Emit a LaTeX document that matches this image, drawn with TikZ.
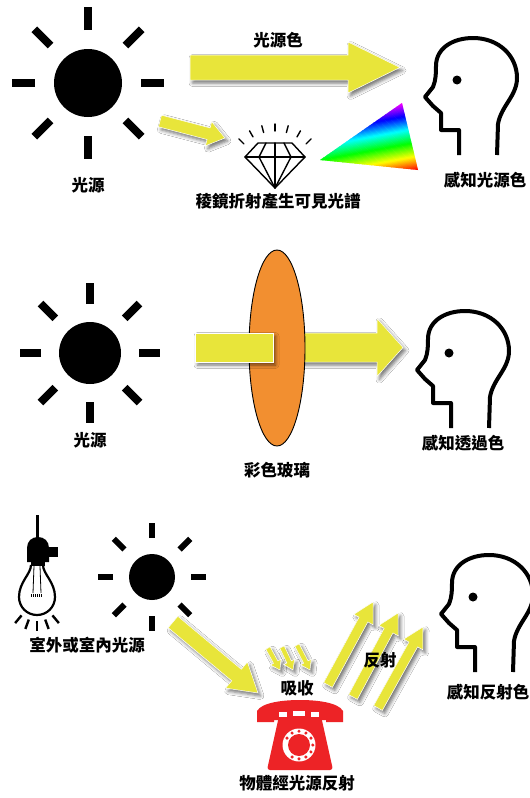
\documentclass[tikz,border=0pt]{standalone}
\usepackage{fontspec}
\setmainfont{Noto Sans CJK TC}
\usetikzlibrary{calc,shadows.blur}

\definecolor{beam}{HTML}{E8E53A}
\definecolor{lens}{HTML}{F28F30}
\definecolor{phonered}{HTML}{ED2326}

\tikzset{
  lbl/.style={font=\bfseries\fontsize{16.5}{18}\selectfont, inner sep=0pt},
  beamfill/.style={fill=beam, draw=white, line width=0.5pt,
    blur shadow={shadow xshift=2.5pt, shadow yshift=-3pt, shadow blur radius=3.5pt, shadow opacity=55}},
  headline/.style={line width=4pt, line join=round},
  thinline/.style={line width=1.4pt, line join=round, line cap=round},
}

% sun: name, centre, disc radius, ray start, ray end, ray width
\newcommand\sunicon[6]{%
  \coordinate (#1) at #2;
  \fill (#1) circle[radius=#3];
  \foreach \a in {0,45,...,315}
    \draw[line width=#6] ($(#1)+(\a:#4)$) -- ($(#1)+(\a:#5)$);
}

% head in profile, placed by the eye position
\newcommand\headicon[2]{%
  \coordinate (#1) at #2;
  \begin{scope}[shift={(#1)}]
    \draw[headline] (2,75) -- (2,50) -- (-16,50) -- (-16,33) -- (-24,26) -- (-32,17) -- (-24,7)
      .. controls (-21,0) and (-21,-8) .. (-21,-14)
      .. controls (-21,-32) and (-4,-42) .. (16,-42)
      .. controls (42,-42) and (60,-24) .. (60,-2)
      .. controls (60,16) and (44,26) .. (41,44) -- (40,75);
    \fill (0,0) circle[radius=4.5];
  \end{scope}
}

% broad yellow arrow: tail, tip, shaft half width, head half width, head length
\newcommand\beamarrow[5]{%
  \path ($(#2)!#5pt!(#1)$) coordinate (hb);
  \fill[beamfill] ($(#1)!#3pt!90:(#2)$) -- ($(hb)!#3pt!90:(#2)$) -- ($(hb)!#4pt!90:(#2)$)
    -- (#2) -- ($(hb)!#4pt!-90:(#2)$) -- ($(hb)!#3pt!-90:(#2)$) -- ($(#1)!#3pt!-90:(#2)$) -- cycle;
}

\begin{document}
\begin{tikzpicture}[x=1pt,y=-1pt]
\fill[white] (0,0) rectangle (530,798);
\useasboundingbox (0,0) rectangle (530,798);

%----------------------------------------------------------- light source colour
\sunicon{sunA}{(88,83)}{34}{53}{76}{8pt}
\node[lbl] (srcA) at (88,185) {光源};

\coordinate (bigT) at (190,67.5);
\coordinate (bigH) at (400,67.5);
\beamarrow{bigT}{bigH}{12.5}{25.5}{52}
\node[lbl] (lsc) at (278,40) {光源色};

\coordinate (smT) at (160,121);
\coordinate (smH) at (225,138);
\beamarrow{smT}{smH}{6}{12.5}{17}

% diamond
\coordinate (gem) at (275,160);
\draw[thinline] (258,143) -- (292,143) -- (305,157) -- (275,188) -- (245,157) -- cycle;
\draw[thinline] (245,157) -- (305,157);
\draw[thinline] (275,143) -- (275,188);
\draw[thinline] (266,143) -- (259,157) -- (275,188) -- (291,157) -- (284,143);
\foreach \a in {-135,-120,...,-45}
  \draw[line width=1.4pt, line cap=round] ($(275,175)+(\a:44)$) -- ($(275,175)+(\a:51)$);

% spectrum: parallel colour bands clipped to the triangle
\coordinate (pv) at (320,160);
\coordinate (pt) at (402,103);
\coordinate (pr) at (418,170);
\begin{scope}
  \clip (pv) -- (pt) -- (pr) -- cycle;
  \foreach \i in {-2,...,62}{
    \pgfmathsetmacro\ha{\i/60}
    \pgfmathsetmacro\hb{(\i+1.4)/60}
    \pgfmathsetmacro\hue{max(0,min(300,300*(1-(\i+0.5)/60)))}
    \definecolor{specc}{Hsb}{\hue,1,1}
    \fill[specc] ($(pt)!\ha!(pr)+(12,-2)$) -- ($(pt)!\hb!(pr)+(12,-2)$)
      -- ($(pt)!\hb!(pr)+(-150,28)$) -- ($(pt)!\ha!(pr)+(-150,28)$) -- cycle;
  }
\end{scope}
\node[lbl] (prism) at (278,201) {稜鏡折射產生可見光譜};

\headicon{headA}{(457,80)}
\node[lbl] (seeA) at (485,180) {感知光源色};

%----------------------------------------------------------- transmitted colour
\sunicon{sunB}{(90,353)}{31}{49}{70}{8pt}
\node[lbl] (srcB) at (90,440) {光源};

\coordinate (midT) at (280,347.5);
\coordinate (midH) at (403,347.5);
\beamarrow{midT}{midH}{14.5}{29}{26}
\draw[line width=0.9pt, fill=lens] (277,348) ellipse[x radius=28, y radius=98];
\fill[beamfill] (195,333) rectangle (273,362);
\node[lbl] (glass) at (277,470) {彩色玻璃};

\headicon{headB}{(449,353)}
\node[lbl] (seeB) at (463,443) {感知透過色};

%----------------------------------------------------------- reflected colour
% hanging bulb
\coordinate (bulb) at (37,597);
\draw[line width=3pt] (37,515) -- (37,540);
\fill (27,562) -- (27,548) .. controls (27,541) and (32,537) .. (38,537)
  .. controls (44,537) and (49,541) .. (49,548) -- (49,562) -- cycle;
\fill (49,547) rectangle (58,557);
\fill (31,561) rectangle (45,566);
\draw[line width=2.2pt] (31,565) .. controls (31,574) and (19,582) .. (19,597)
  .. controls (19,607) and (27,615) .. (37,615) .. controls (47,615) and (55,607) .. (55,597)
  .. controls (55,582) and (43,574) .. (43,565);
\draw[line width=0.8pt] (34,566) -- (33,593) (40,566) -- (41,593);
\draw[line width=3pt, dash pattern=on 1pt off 1pt] (31,595) -- (43,595);
\foreach \a in {50,70,90,110,130}
  \draw[line width=2.4pt] ($(bulb)+(\a:24)$) -- ($(bulb)+(\a:34)$);

\sunicon{sunC}{(152,577)}{23}{39}{54}{6pt}
\node[lbl] (srcC) at (87,645) {室外或室內光源};

\coordinate (dgT) at (173,622);
\coordinate (dgH) at (258,693);
\beamarrow{dgT}{dgH}{7.5}{17}{28}

% absorbed rays
\foreach \tx/\ty/\hx/\hy [count=\k] in {268/648/280/670, 282/647/293/670, 297/645/310/670}{
  \coordinate (abT\k) at (\tx,\ty);
  \coordinate (abH\k) at (\hx,\hy);
  \beamarrow{abT\k}{abH\k}{2.5}{6}{9}
}
\node[lbl] (absorb) at (297,688) {吸收};

% reflected rays
\foreach \tx/\ty/\hx/\hy [count=\k] in {328/685/373/602, 353/697/398/613, 378/708/423/627}{
  \coordinate (rfT\k) at (\tx,\ty);
  \coordinate (rfH\k) at (\hx,\hy);
  \beamarrow{rfT\k}{rfH\k}{5}{11}{20}
}
\node[lbl] (reflect) at (380,660) {反射};

% rotary telephone
\coordinate (dial) at (299,745);
\fill[phonered] (257,722) -- (257,711) .. controls (262,702) and (285,700) .. (300,700)
  .. controls (315,700) and (338,702) .. (343,711) -- (343,722) -- (326,722) -- (326,720)
  -- (274,720) -- (274,722) -- cycle;
\fill[phonered, rounded corners=3pt] (279,716) -- (321,716) -- (333,770) -- (267,770) -- cycle;
\fill[white] (279,712) rectangle (287,717);
\fill[white] (293,711) rectangle (305,716);
\fill[white] (311,712) rectangle (319,717);
\fill[white] (dial) circle[radius=16.5];
\fill[phonered] (dial) circle[radius=11];
\foreach \a in {-150,-120,...,120}
  \fill[phonered] ($(dial)+(\a:13.8)$) circle[radius=1.7];
\node[lbl] (phone) at (297,783) {物體經光源反射};

\headicon{headC}{(473,597)}
\node[lbl] (seeC) at (488,692) {感知反射色};
\end{tikzpicture}
\end{document}
